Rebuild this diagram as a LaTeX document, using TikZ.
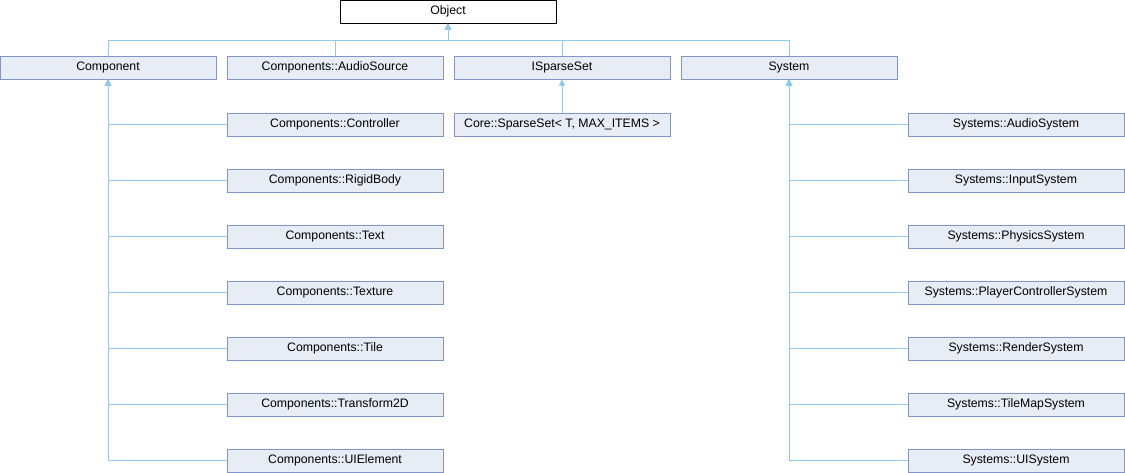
\documentclass[tikz,border=0pt]{standalone}
\usepackage{fontspec}
\setmainfont{Liberation Sans}
\usetikzlibrary{arrows.meta}
\definecolor{boxfill}{HTML}{E8ECF5}
\definecolor{boxline}{HTML}{8295CA}
\definecolor{lnkblue}{HTML}{8DCAEB}

\begin{document}
\begin{tikzpicture}[
  x=0.75pt,y=-0.75pt,
  font=\fontsize{9.2}{11}\selectfont,
  cls/.style={draw=boxline,fill=boxfill,line width=0.75pt,minimum width=162pt,minimum height=17.25pt,inner sep=0pt},
  root/.style={cls,draw=black,fill=white},
  lnk/.style={draw=lnkblue,line width=0.75pt},
  inh/.style={lnk,-{Triangle[width=4.5pt,length=4.5pt,fill=lnkblue]}},
]
\useasboundingbox (0,0) rectangle (1125,472);

% base of everything
\node[root] (obj) at (448,11.5) {Object};

% first level
\node[cls] (comp) at (108,67.5) {Component};
\node[cls] (audiosrc) at (335,67.5) {Components::AudioSource};
\node[cls] (isparse) at (562,67.5) {ISparseSet};
\node[cls] (sys) at (789,67.5) {System};
\coordinate (objbus) at (448,40);
\draw[inh] (comp.north) |- (objbus) -- (obj.south);
\draw[inh] (audiosrc.north) |- (objbus) -- (obj.south);
\draw[inh] (isparse.north) |- (objbus) -- (obj.south);
\draw[inh] (sys.north) |- (objbus) -- (obj.south);

% sparse set
\node[cls] (sparseset) at (562,124.5) {Core::SparseSet< T, MAX\_ITEMS >};
\draw[inh] (sparseset.north) -- (isparse.south);

% components
\node[cls] (ctrl) at (335,124.5) {Components::Controller};
\node[cls] (rigid) at (335,180.5) {Components::RigidBody};
\node[cls] (text) at (335,236.5) {Components::Text};
\node[cls] (texture) at (335,292.5) {Components::Texture};
\node[cls] (tile) at (335,348.5) {Components::Tile};
\node[cls] (tf2d) at (335,404.5) {Components::Transform2D};
\node[cls] (uielem) at (335,460.5) {Components::UIElement};
\foreach \c in {ctrl,rigid,text,texture,tile,tf2d,uielem}
  \draw[inh] (\c.west) -| (comp.south);

% systems
\node[cls] (audiosys) at (1016,124.5) {Systems::AudioSystem};
\node[cls] (inputsys) at (1016,180.5) {Systems::InputSystem};
\node[cls] (physsys) at (1016,236.5) {Systems::PhysicsSystem};
\node[cls] (playersys) at (1016,292.5) {Systems::PlayerControllerSystem};
\node[cls] (rendersys) at (1016,348.5) {Systems::RenderSystem};
\node[cls] (tilemapsys) at (1016,404.5) {Systems::TileMapSystem};
\node[cls] (uisys) at (1016,460.5) {Systems::UISystem};
\foreach \s in {audiosys,inputsys,physsys,playersys,rendersys,tilemapsys,uisys}
  \draw[inh] (\s.west) -| (sys.south);
\end{tikzpicture}
\end{document}
